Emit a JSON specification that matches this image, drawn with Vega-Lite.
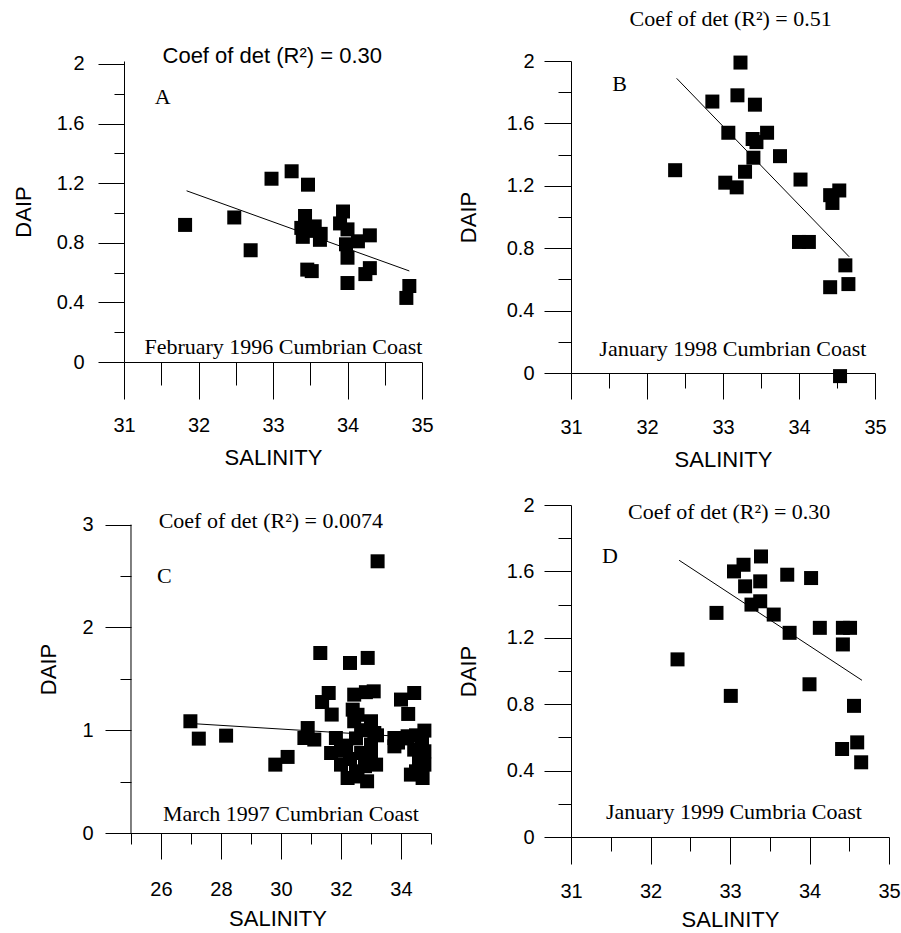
{
  "$schema": "https://vega.github.io/schema/vega-lite/v6.json",
  "padding": {"left": 12, "top": 7, "right": 0, "bottom": 0},
  "background": "white",
  "config": {
    "view": {"stroke": null},
    "axis": {"grid": false, "domainColor": "black", "tickColor": "black", "labelColor": "black", "titleColor": "black",
      "labelFont": "Liberation Sans", "titleFont": "Liberation Sans", "labelFontSize": 20, "titleFontSize": 22,
      "titleFontWeight": "normal", "labelFlush": false, "labelOverlap": false, "domainWidth": 1, "tickWidth": 1, "tickCount": 100}
  },
  "datasets": {
    "points": [
      {"panel": "A", "salinity": 31.82, "daip": 0.92}, {"panel": "A", "salinity": 32.48, "daip": 0.97},
      {"panel": "A", "salinity": 32.70, "daip": 0.75}, {"panel": "A", "salinity": 32.98, "daip": 1.23},
      {"panel": "A", "salinity": 33.25, "daip": 1.28}, {"panel": "A", "salinity": 33.47, "daip": 1.19},
      {"panel": "A", "salinity": 33.43, "daip": 0.98}, {"panel": "A", "salinity": 33.38, "daip": 0.90},
      {"panel": "A", "salinity": 33.40, "daip": 0.84}, {"panel": "A", "salinity": 33.56, "daip": 0.91},
      {"panel": "A", "salinity": 33.63, "daip": 0.82}, {"panel": "A", "salinity": 33.64, "daip": 0.86},
      {"panel": "A", "salinity": 33.48, "daip": 0.88}, {"panel": "A", "salinity": 33.46, "daip": 0.62},
      {"panel": "A", "salinity": 33.52, "daip": 0.61}, {"panel": "A", "salinity": 33.94, "daip": 1.01},
      {"panel": "A", "salinity": 33.90, "daip": 0.93}, {"panel": "A", "salinity": 34.00, "daip": 0.89},
      {"panel": "A", "salinity": 33.98, "daip": 0.79}, {"panel": "A", "salinity": 34.00, "daip": 0.70},
      {"panel": "A", "salinity": 34.14, "daip": 0.81}, {"panel": "A", "salinity": 34.30, "daip": 0.85},
      {"panel": "A", "salinity": 34.00, "daip": 0.53}, {"panel": "A", "salinity": 34.24, "daip": 0.59},
      {"panel": "A", "salinity": 34.30, "daip": 0.63}, {"panel": "A", "salinity": 34.83, "daip": 0.51},
      {"panel": "A", "salinity": 34.79, "daip": 0.43},

      {"panel": "B", "salinity": 32.37, "daip": 1.30}, {"panel": "B", "salinity": 32.86, "daip": 1.74},
      {"panel": "B", "salinity": 33.07, "daip": 1.54}, {"panel": "B", "salinity": 33.03, "daip": 1.22},
      {"panel": "B", "salinity": 33.18, "daip": 1.19}, {"panel": "B", "salinity": 33.29, "daip": 1.29},
      {"panel": "B", "salinity": 33.23, "daip": 1.99}, {"panel": "B", "salinity": 33.19, "daip": 1.78},
      {"panel": "B", "salinity": 33.42, "daip": 1.72}, {"panel": "B", "salinity": 33.39, "daip": 1.50},
      {"panel": "B", "salinity": 33.44, "daip": 1.48}, {"panel": "B", "salinity": 33.58, "daip": 1.54},
      {"panel": "B", "salinity": 33.40, "daip": 1.38}, {"panel": "B", "salinity": 33.75, "daip": 1.39},
      {"panel": "B", "salinity": 34.02, "daip": 1.24}, {"panel": "B", "salinity": 34.41, "daip": 1.14},
      {"panel": "B", "salinity": 34.53, "daip": 1.17}, {"panel": "B", "salinity": 34.44, "daip": 1.09},
      {"panel": "B", "salinity": 34.00, "daip": 0.84}, {"panel": "B", "salinity": 34.13, "daip": 0.84},
      {"panel": "B", "salinity": 34.61, "daip": 0.69}, {"panel": "B", "salinity": 34.65, "daip": 0.57},
      {"panel": "B", "salinity": 34.41, "daip": 0.55}, {"panel": "B", "salinity": 34.54, "daip": -0.02},

      {"panel": "C", "salinity": 26.98, "daip": 1.087}, {"panel": "C", "salinity": 27.26, "daip": 0.918},
      {"panel": "C", "salinity": 28.17, "daip": 0.947}, {"panel": "C", "salinity": 29.81, "daip": 0.665},
      {"panel": "C", "salinity": 30.22, "daip": 0.740}, {"panel": "C", "salinity": 30.78, "daip": 0.924},
      {"panel": "C", "salinity": 30.89, "daip": 1.021}, {"panel": "C", "salinity": 31.11, "daip": 0.909},
      {"panel": "C", "salinity": 31.31, "daip": 1.751}, {"panel": "C", "salinity": 31.37, "daip": 1.274},
      {"panel": "C", "salinity": 31.59, "daip": 1.362}, {"panel": "C", "salinity": 31.69, "daip": 1.152},
      {"panel": "C", "salinity": 31.67, "daip": 0.778}, {"panel": "C", "salinity": 31.83, "daip": 0.924},
      {"panel": "C", "salinity": 32.00, "daip": 0.665}, {"panel": "C", "salinity": 32.00, "daip": 0.800},
      {"panel": "C", "salinity": 32.17, "daip": 0.850}, {"panel": "C", "salinity": 32.22, "daip": 0.535},
      {"panel": "C", "salinity": 32.30, "daip": 0.720}, {"panel": "C", "salinity": 32.30, "daip": 1.654},
      {"panel": "C", "salinity": 32.39, "daip": 1.200}, {"panel": "C", "salinity": 32.44, "daip": 1.346},
      {"panel": "C", "salinity": 32.44, "daip": 1.087}, {"panel": "C", "salinity": 32.50, "daip": 0.600},
      {"panel": "C", "salinity": 32.50, "daip": 0.920}, {"panel": "C", "salinity": 32.55, "daip": 1.150},
      {"panel": "C", "salinity": 32.55, "daip": 0.550}, {"panel": "C", "salinity": 32.67, "daip": 1.000},
      {"panel": "C", "salinity": 32.67, "daip": 0.778}, {"panel": "C", "salinity": 32.80, "daip": 0.650},
      {"panel": "C", "salinity": 32.83, "daip": 1.370}, {"panel": "C", "salinity": 32.87, "daip": 0.503},
      {"panel": "C", "salinity": 32.89, "daip": 1.703}, {"panel": "C", "salinity": 33.00, "daip": 1.087},
      {"panel": "C", "salinity": 33.00, "daip": 0.860}, {"panel": "C", "salinity": 33.00, "daip": 0.750},
      {"panel": "C", "salinity": 33.09, "daip": 1.378}, {"panel": "C", "salinity": 33.11, "daip": 0.973},
      {"panel": "C", "salinity": 33.17, "daip": 0.665}, {"panel": "C", "salinity": 33.20, "daip": 0.950},
      {"panel": "C", "salinity": 33.22, "daip": 2.643}, {"panel": "C", "salinity": 33.78, "daip": 0.924},
      {"panel": "C", "salinity": 33.78, "daip": 0.843}, {"panel": "C", "salinity": 33.90, "daip": 0.880},
      {"panel": "C", "salinity": 34.00, "daip": 1.298}, {"panel": "C", "salinity": 34.10, "daip": 0.920},
      {"panel": "C", "salinity": 34.22, "daip": 0.941}, {"panel": "C", "salinity": 34.24, "daip": 1.158},
      {"panel": "C", "salinity": 34.33, "daip": 0.568}, {"panel": "C", "salinity": 34.44, "daip": 1.362},
      {"panel": "C", "salinity": 34.44, "daip": 0.811}, {"panel": "C", "salinity": 34.50, "daip": 0.950},
      {"panel": "C", "salinity": 34.50, "daip": 0.600}, {"panel": "C", "salinity": 34.60, "daip": 0.700},
      {"panel": "C", "salinity": 34.70, "daip": 0.880}, {"panel": "C", "salinity": 34.72, "daip": 0.535},
      {"panel": "C", "salinity": 34.78, "daip": 0.996}, {"panel": "C", "salinity": 34.78, "daip": 0.795},
      {"panel": "C", "salinity": 34.78, "daip": 0.665},

      {"panel": "D", "salinity": 32.34, "daip": 1.07}, {"panel": "D", "salinity": 32.83, "daip": 1.35},
      {"panel": "D", "salinity": 33.01, "daip": 0.85}, {"panel": "D", "salinity": 33.05, "daip": 1.60},
      {"panel": "D", "salinity": 33.17, "daip": 1.64}, {"panel": "D", "salinity": 33.19, "daip": 1.51},
      {"panel": "D", "salinity": 33.27, "daip": 1.40}, {"panel": "D", "salinity": 33.39, "daip": 1.69},
      {"panel": "D", "salinity": 33.38, "daip": 1.54}, {"panel": "D", "salinity": 33.38, "daip": 1.42},
      {"panel": "D", "salinity": 33.55, "daip": 1.34}, {"panel": "D", "salinity": 33.72, "daip": 1.58},
      {"panel": "D", "salinity": 33.75, "daip": 1.23}, {"panel": "D", "salinity": 34.02, "daip": 1.56},
      {"panel": "D", "salinity": 34.13, "daip": 1.26}, {"panel": "D", "salinity": 34.00, "daip": 0.92},
      {"panel": "D", "salinity": 34.42, "daip": 1.26}, {"panel": "D", "salinity": 34.51, "daip": 1.26},
      {"panel": "D", "salinity": 34.42, "daip": 1.16}, {"panel": "D", "salinity": 34.56, "daip": 0.79},
      {"panel": "D", "salinity": 34.41, "daip": 0.53}, {"panel": "D", "salinity": 34.60, "daip": 0.57},
      {"panel": "D", "salinity": 34.65, "daip": 0.45}
    ],
    "fits": [
      {"panel": "A", "salinity": 31.84, "daip": 1.149}, {"panel": "A", "salinity": 34.83, "daip": 0.611},
      {"panel": "B", "salinity": 32.39, "daip": 1.889}, {"panel": "B", "salinity": 34.66, "daip": 0.745},
      {"panel": "C", "salinity": 27.0, "daip": 1.065}, {"panel": "C", "salinity": 34.8, "daip": 0.925},
      {"panel": "D", "salinity": 32.36, "daip": 1.667}, {"panel": "D", "salinity": 34.66, "daip": 0.944}
    ],
    "one": [{}]
  },
  "columns": 2,
  "align": "each",
  "bounds": "flush",
  "spacing": {"row": 132, "column": 140},
  "concat": [
    {
      "width": 298, "height": 301,
      "layer": [
        {
          "data": {"name": "fits"},
          "transform": [{"filter": "datum.panel === 'A'"}],
          "mark": {"type": "line", "color": "black", "strokeWidth": 1},
          "encoding": {
            "x": {"field": "salinity", "type": "quantitative", "scale": {"domain": [31, 35], "nice": false, "zero": false},
              "axis": {"title": "SALINITY", "values": [31, 31.5, 32, 32.5, 33, 33.5, 34, 34.5, 35], "tickCount": 100,
                "tickSize": {"condition": {"test": "round(datum.value) === datum.value", "value": 37}, "value": 23},
                "labelPadding": 16, "titlePadding": 12,
                "labelExpr": "round(datum.value) === datum.value ? format(datum.value, 'd') : ''"}},
            "y": {"field": "daip", "type": "quantitative", "scale": {"domain": [0, 2.0201], "nice": false, "zero": false},
              "axis": {"title": "DAIP", "values": [0, 0.2, 0.4, 0.6, 0.8, 1, 1.2, 1.4, 1.6, 1.8, 2], "tickCount": 100,
                "tickSize": {"condition": {"test": "abs(datum.value / 0.4 - round(datum.value / 0.4)) < 0.001", "value": 26}, "value": 10},
                "labelPadding": 14, "titlePadding": 20.6,
                "labelExpr": "abs(datum.value / 0.4 - round(datum.value / 0.4)) < 0.001 ? format(datum.value, '~g') : ''"}}
          }
        },
        {
          "data": {"name": "points"},
          "transform": [{"filter": "datum.panel === 'A'"}],
          "mark": {"type": "point", "shape": "square", "filled": true, "color": "black", "size": 196, "opacity": 1},
          "encoding": {"x": {"field": "salinity", "type": "quantitative"}, "y": {"field": "daip", "type": "quantitative"}}
        },
        {
          "data": {"name": "one"},
          "mark": {"type": "text", "text": "Coef of det (R²) = 0.30", "font": "Liberation Sans", "fontSize": 22, "align": "center", "baseline": "alphabetic", "color": "black"},
          "encoding": {"x": {"datum": 32.99}, "y": {"datum": 2.007}}
        },
        {
          "data": {"name": "one"},
          "mark": {"type": "text", "text": "A", "font": "Liberation Serif", "fontSize": 22, "align": "center", "baseline": "alphabetic", "color": "black"},
          "encoding": {"x": {"datum": 31.52}, "y": {"datum": 1.729}}
        },
        {
          "data": {"name": "one"},
          "mark": {"type": "text", "text": "February 1996 Cumbrian Coast", "font": "Liberation Serif", "fontSize": 22, "align": "center", "baseline": "alphabetic", "color": "black"},
          "encoding": {"x": {"datum": 33.14}, "y": {"datum": 0.056}}
        }
      ]
    },
    {
      "width": 304, "height": 312,
      "layer": [
        {
          "data": {"name": "fits"},
          "transform": [{"filter": "datum.panel === 'B'"}],
          "mark": {"type": "line", "color": "black", "strokeWidth": 1},
          "encoding": {
            "x": {"field": "salinity", "type": "quantitative", "scale": {"domain": [31, 35], "nice": false, "zero": false},
              "axis": {"title": "SALINITY", "values": [31, 31.5, 32, 32.5, 33, 33.5, 34, 34.5, 35], "tickCount": 100,
                "tickSize": {"condition": {"test": "round(datum.value) === datum.value", "value": 26}, "value": 15},
                "labelPadding": 18, "titlePadding": 12,
                "labelExpr": "round(datum.value) === datum.value ? format(datum.value, 'd') : ''"}},
            "y": {"field": "daip", "type": "quantitative", "scale": {"domain": [0, 2], "nice": false, "zero": false},
              "axis": {"title": "DAIP", "values": [0, 0.2, 0.4, 0.6, 0.8, 1, 1.2, 1.4, 1.6, 1.8, 2], "tickCount": 100,
                "tickSize": {"condition": {"test": "abs(datum.value / 0.4 - round(datum.value / 0.4)) < 0.001", "value": 27}, "value": 13},
                "labelPadding": 10, "titlePadding": 25.6,
                "labelExpr": "abs(datum.value / 0.4 - round(datum.value / 0.4)) < 0.001 ? format(datum.value, '~g') : ''"}}
          }
        },
        {
          "data": {"name": "points"},
          "transform": [{"filter": "datum.panel === 'B'"}],
          "mark": {"type": "point", "shape": "square", "filled": true, "color": "black", "size": 196, "opacity": 1},
          "encoding": {"x": {"field": "salinity", "type": "quantitative"}, "y": {"field": "daip", "type": "quantitative"}}
        },
        {
          "data": {"name": "one"},
          "mark": {"type": "text", "text": "Coef of det (R²) = 0.51", "font": "Liberation Serif", "fontSize": 22, "align": "center", "baseline": "alphabetic", "color": "black"},
          "encoding": {"x": {"datum": 33.10}, "y": {"datum": 2.227}}
        },
        {
          "data": {"name": "one"},
          "mark": {"type": "text", "text": "B", "font": "Liberation Serif", "fontSize": 22, "align": "center", "baseline": "alphabetic", "color": "black"},
          "encoding": {"x": {"datum": 31.64}, "y": {"datum": 1.808}}
        },
        {
          "data": {"name": "one"},
          "mark": {"type": "text", "text": "January 1998 Cumbrian Coast", "font": "Liberation Serif", "fontSize": 22, "align": "center", "baseline": "alphabetic", "color": "black"},
          "encoding": {"x": {"datum": 33.13}, "y": {"datum": 0.111}}
        }
      ]
    },
    {
      "width": 307, "height": 328,
      "layer": [
        {
          "data": {"name": "fits"},
          "transform": [{"filter": "datum.panel === 'C'"}],
          "mark": {"type": "line", "color": "black", "strokeWidth": 1},
          "encoding": {
            "x": {"field": "salinity", "type": "quantitative", "scale": {"domain": [24.7667, 35], "nice": false, "zero": false},
              "axis": {"title": "SALINITY", "values": [25, 26, 27, 28, 29, 30, 31, 32, 33, 34, 35], "tickCount": 100,
                "tickSize": {"condition": {"test": "round(datum.value / 2) * 2 === round(datum.value)", "value": 26}, "value": 11},
                "labelPadding": 20, "titlePadding": 9,
                "labelExpr": "round(datum.value / 2) * 2 === round(datum.value) ? format(round(datum.value), 'd') : ''"}},
            "y": {"field": "daip", "type": "quantitative", "scale": {"domain": [0, 3.1907], "nice": false, "zero": false},
              "axis": {"title": "DAIP", "values": [0, 0.5, 1, 1.5, 2, 2.5, 3], "tickCount": 100, "offset": -7, "domain": false,
                "tickSize": {"condition": {"test": "round(datum.value) === datum.value", "value": 26}, "value": 11},
                "labelPadding": 12, "titlePadding": 21,
                "labelExpr": "round(datum.value) === datum.value ? format(datum.value, 'd') : ''"}}
          }
        },
        {
          "data": {"name": "one"},
          "mark": {"type": "rule", "color": "black", "strokeWidth": 1},
          "encoding": {"x": {"datum": 25}, "y": {"datum": 0}, "y2": {"datum": 3}}
        },
        {
          "data": {"name": "points"},
          "transform": [{"filter": "datum.panel === 'C'"}],
          "mark": {"type": "point", "shape": "square", "filled": true, "color": "black", "size": 196, "opacity": 1},
          "encoding": {"x": {"field": "salinity", "type": "quantitative"}, "y": {"field": "daip", "type": "quantitative"}}
        },
        {
          "data": {"name": "one"},
          "mark": {"type": "text", "text": "Coef of det (R²) = 0.0074", "font": "Liberation Serif", "fontSize": 22, "align": "center", "baseline": "alphabetic", "color": "black"},
          "encoding": {"x": {"datum": 29.66}, "y": {"datum": 2.967}}
        },
        {
          "data": {"name": "one"},
          "mark": {"type": "text", "text": "C", "font": "Liberation Serif", "fontSize": 22, "align": "center", "baseline": "alphabetic", "color": "black"},
          "encoding": {"x": {"datum": 26.11}, "y": {"datum": 2.432}}
        },
        {
          "data": {"name": "one"},
          "mark": {"type": "text", "text": "March 1997 Cumbrian Coast", "font": "Liberation Serif", "fontSize": 22, "align": "center", "baseline": "alphabetic", "color": "black"},
          "encoding": {"x": {"datum": 30.33}, "y": {"datum": 0.114}}
        }
      ]
    },
    {
      "width": 318, "height": 332,
      "layer": [
        {
          "data": {"name": "fits"},
          "transform": [{"filter": "datum.panel === 'D'"}],
          "mark": {"type": "line", "color": "black", "strokeWidth": 1},
          "encoding": {
            "x": {"field": "salinity", "type": "quantitative", "scale": {"domain": [31, 35], "nice": false, "zero": false},
              "axis": {"title": "SALINITY", "values": [31, 31.5, 32, 32.5, 33, 33.5, 34, 34.5, 35], "tickCount": 100,
                "tickSize": {"condition": {"test": "round(datum.value) === datum.value", "value": 27}, "value": 14},
                "labelPadding": 17, "titlePadding": 8,
                "labelExpr": "round(datum.value) === datum.value ? format(datum.value, 'd') : ''"}},
            "y": {"field": "daip", "type": "quantitative", "scale": {"domain": [0, 2], "nice": false, "zero": false},
              "axis": {"title": "DAIP", "values": [0, 0.2, 0.4, 0.6, 0.8, 1, 1.2, 1.4, 1.6, 1.8, 2], "tickCount": 100,
                "tickSize": {"condition": {"test": "abs(datum.value / 0.4 - round(datum.value / 0.4)) < 0.001", "value": 27}, "value": 13},
                "labelPadding": 10, "titlePadding": 25.6,
                "labelExpr": "abs(datum.value / 0.4 - round(datum.value / 0.4)) < 0.001 ? format(datum.value, '~g') : ''"}}
          }
        },
        {
          "data": {"name": "points"},
          "transform": [{"filter": "datum.panel === 'D'"}],
          "mark": {"type": "point", "shape": "square", "filled": true, "color": "black", "size": 196, "opacity": 1},
          "encoding": {"x": {"field": "salinity", "type": "quantitative"}, "y": {"field": "daip", "type": "quantitative"}}
        },
        {
          "data": {"name": "one"},
          "mark": {"type": "text", "text": "Coef of det (R²) = 0.30", "font": "Liberation Serif", "fontSize": 22, "align": "center", "baseline": "alphabetic", "color": "black"},
          "encoding": {"x": {"datum": 32.99}, "y": {"datum": 1.914}}
        },
        {
          "data": {"name": "one"},
          "mark": {"type": "text", "text": "D", "font": "Liberation Serif", "fontSize": 22, "align": "center", "baseline": "alphabetic", "color": "black"},
          "encoding": {"x": {"datum": 31.49}, "y": {"datum": 1.652}}
        },
        {
          "data": {"name": "one"},
          "mark": {"type": "text", "text": "January 1999 Cumbria Coast", "font": "Liberation Serif", "fontSize": 22, "align": "center", "baseline": "alphabetic", "color": "black"},
          "encoding": {"x": {"datum": 33.05}, "y": {"datum": 0.107}}
        }
      ]
    }
  ]
}
